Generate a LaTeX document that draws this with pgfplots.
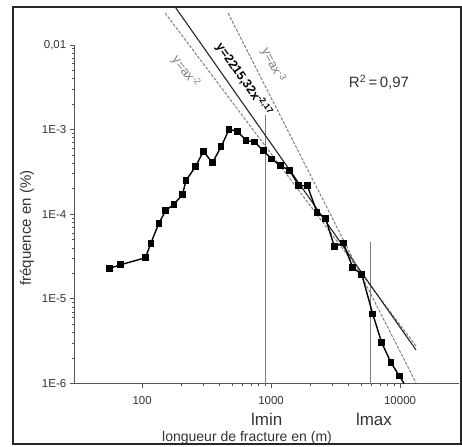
\documentclass[border=0pt]{standalone}
\usepackage{fontspec}
\setmainfont{Liberation Sans}
\usepackage{pgfplots}
\pgfplotsset{compat=1.18}
\definecolor{fitgray}{HTML}{808080}
\definecolor{axgray}{HTML}{555555}
\definecolor{txt}{HTML}{333333}

\begin{document}
\begin{tikzpicture}
\useasboundingbox (-74.3pt,-62.5pt) rectangle (387.7pt,383.5pt);
\draw[line width=1.2pt, black!85] (-61.3pt,-60.5pt) rectangle (386.7pt,376.5pt);
\begin{axis}[
  at={(0,0)}, anchor=south west,
  scale only axis, width=384.7pt, height=338.5pt,
  xmode=log, ymode=log,
  xmin=29.8, xmax=28650, ymin=1e-6, ymax=0.01,
  axis x line*=bottom, axis y line*=left,
  axis line style={-, axgray, line width=1pt},
  tick align=outside,
  major tick length=4.5pt, minor tick length=2.5pt,
  tick style={axgray, line width=0.8pt},
  xtick={100,1000,10000}, xticklabels={100,1000,10000},
  ytick={1e-6,1e-5,1e-4,1e-3,1e-2},
  yticklabels={1E-6,1E-5,1E-4,1E-3,{0,01}},
  ticklabel style={font=\fontsize{11.5}{12}\selectfont, text=txt},
  xticklabel style={yshift=-5pt},
  /pgf/number format/assume math mode=true,
  clip=false,
  xlabel={longueur de fracture en (m)},
  ylabel={fréquence en (\%)},
  xlabel style={at={(0.449,-0.161)}, anchor=center, font=\fontsize{14}{16}\selectfont, text=txt},
  ylabel style={at={(-0.123,0.459)}, anchor=center, font=\fontsize{15}{16}\selectfont, text=txt},
]
% lmin / lmax
\addplot[fitgray, line width=1pt] coordinates {(903,1e-6)(903,1.49e-3)};
\addplot[fitgray, line width=1pt] coordinates {(5850,1e-6)(5850,4.66e-5)};
% power laws
\addplot[fitgray, line width=1pt, dash pattern=on 3pt off 1.5pt] coordinates {(150.7,0.02387)(13300,2.77e-6)};
\addplot[black!85, line width=1.1pt] coordinates {(182.8,0.02735)(13300,2.49e-6)};
\addplot[fitgray, line width=1pt, dash pattern=on 3pt off 1.5pt] coordinates {(464,0.02387)(13300,1.016e-6)};
% data
\addplot[black, line width=1.4pt, mark=square*, mark size=2.6pt] coordinates {
(55.8,2.29e-5)(67.9,2.53e-5)(106.1,3.06e-5)(116.8,4.53e-5)(134.8,7.81e-5)
(152.6,1.11e-4)(176.1,1.31e-4)(205.3,1.70e-4)(219.3,2.52e-4)(259.0,3.64e-4)
(298.7,5.54e-4)(350.8,4.06e-4)(409.7,6.28e-4)(472.6,1.008e-3)(548.0,9.55e-4)
(640,7.47e-4)(747.4,7.13e-4)(871.5,5.64e-4)(1012.5,4.49e-4)(1180.3,3.74e-4)
(1396,3.30e-4)(1639,2.17e-4)(1911,2.17e-4)(2273,1.053e-4)(2655,8.85e-5)
(3095,4.13e-5)(3635,4.57e-5)(4298,2.33e-5)(5047,1.95e-5)(6143,6.61e-6)
(7211,3.03e-6)(8511,1.76e-6)(9876,1.23e-6)};
\addplot[black, line width=1.4pt] coordinates {(9876,1.23e-6)(10740,1e-6)};
% texts
\node[rotate=-52.7, text=fitgray, font=\fontsize{13}{14}\selectfont] at (axis cs:218,4.8e-3) {y=ax\textsuperscript{-2}};
\node[rotate=-54.9, text=black, font=\bfseries\fontsize{12.5}{14}\selectfont] at (axis cs:615,3.86e-3) {y=2215,32x\textsuperscript{-2,17}};
\node[rotate=-62.9, text=fitgray, font=\fontsize{13}{14}\selectfont] at (axis cs:1040,5.81e-3) {y=ax\textsuperscript{-3}};
\node[text=txt, font=\fontsize{15}{16}\selectfont] at (axis cs:6870,3.65e-3) {R\textsuperscript{2}\,=\,0,97};
\node[text=txt, font=\fontsize{17}{18}\selectfont] at (axis cs:926,3.79e-7) {lmin};
\node[text=txt, font=\fontsize{17}{18}\selectfont] at (axis cs:6280,3.79e-7) {lmax};
\end{axis}
\end{tikzpicture}
\end{document}
